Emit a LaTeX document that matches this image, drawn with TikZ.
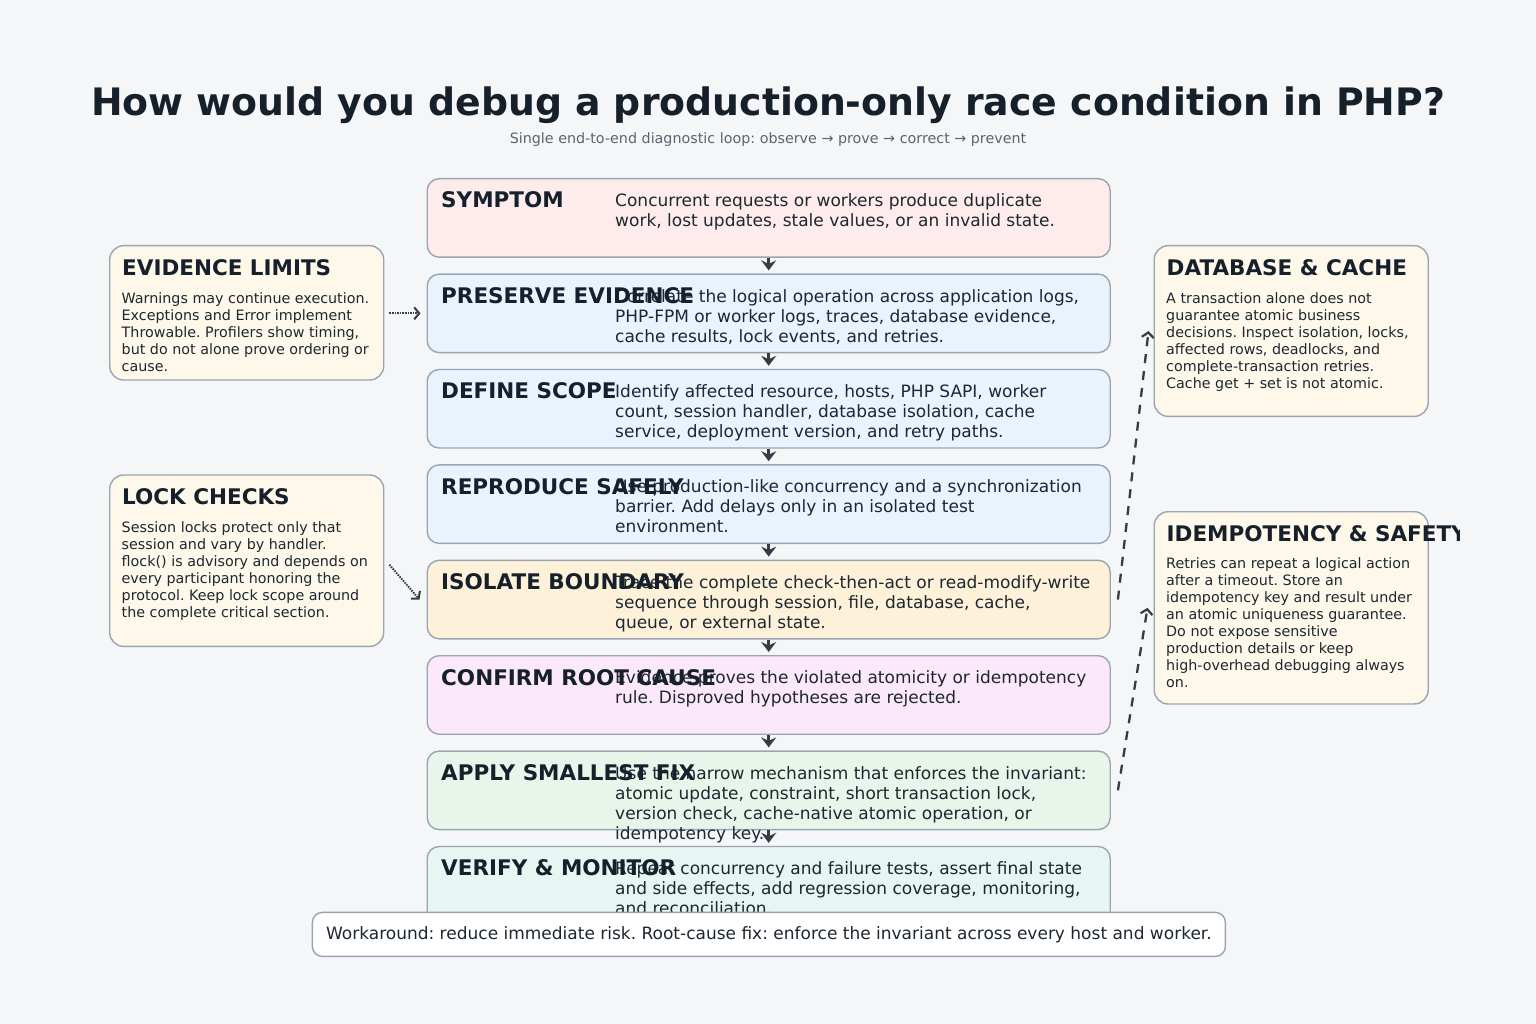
\documentclass[tikz,border=0pt]{standalone}
\usepackage{fontspec}
\setmainfont{DejaVu Sans}
\usetikzlibrary{arrows.meta,calc}
\frenchspacing
\definecolor{bgc}{HTML}{F4F6F8}
\definecolor{bordc}{HTML}{9AA5B1}
\definecolor{sidefill}{HTML}{FDF8EA}
\definecolor{sympf}{HTML}{FDECEB}
\definecolor{bluef}{HTML}{EAF3FD}
\definecolor{yelf}{HTML}{FDF2D9}
\definecolor{purf}{HTML}{FBE8FB}
\definecolor{grnf}{HTML}{E8F5EA}
\definecolor{tealf}{HTML}{E6F6F3}
\definecolor{titlec}{HTML}{16202A}
\definecolor{descc}{HTML}{1E2730}
\definecolor{subc}{HTML}{5A6470}
\definecolor{arrc}{HTML}{343D46}
\newcommand{\flA}{\rule{0pt}{15pt}}
\newcommand{\flB}{\rule{0pt}{13pt}}
\begin{document}
\begin{tikzpicture}[x=1pt,y=-1pt,
  stepbox/.style={draw=bordc, line width=1.4pt, rounded corners=12pt, minimum width=683pt, minimum height=78.5pt, anchor=north west, inner sep=0pt},
  sidebox/.style={draw=bordc, line width=1.4pt, rounded corners=14pt, fill=sidefill, anchor=north west, inner sep=0pt, minimum width=274pt},
  ttl/.style={anchor=base west, inner sep=0pt, font=\fontsize{21.5}{25}\selectfont\bfseries, text=titlec},
  desc/.style={anchor=north west, inner sep=0pt, align=left, font=\fontsize{17}{20}\selectfont, text=descc},
  sdesc/.style={anchor=north west, inner sep=0pt, align=left, font=\fontsize{14.3}{17}\selectfont, text=descc},
  flow/.style={draw=arrc, line width=2.6pt, shorten >=3pt, -{Stealth[length=10pt,width=15pt,inset=3.5pt]}},
  dotarrow/.style={draw=arrc, line width=2pt, dash pattern=on 1.5pt off 1.1pt, -{Straight Barb[length=5pt,width=12pt,line width=2pt]}},
  dasharrow/.style={draw=arrc, line width=2.3pt, dash pattern=on 9pt off 8pt, -{Straight Barb[length=5pt,width=12pt,line width=2.2pt]}}
]
\useasboundingbox[fill=bgc] (0,0) rectangle (1536,1024);

% title
\node[font=\fontsize{37.8}{44}\selectfont\bfseries, text=titlec, anchor=base, inner sep=0pt] (title) at (768,116) {How would you debug a production-only race condition in PHP?};
\node[font=\fontsize{14.3}{16}\selectfont, text=subc, anchor=base, inner sep=0pt] (sub) at (768,144) {Single end-to-end diagnostic loop: observe → prove → correct → prevent};

% steps
\node[stepbox, fill=sympf] (s1) at (426.5,178) {};
\node[stepbox, fill=bluef] (s2) at (426.5,273.4) {};
\node[stepbox, fill=bluef] (s3) at (426.5,368.8) {};
\node[stepbox, fill=bluef] (s4) at (426.5,464.2) {};
\node[stepbox, fill=yelf] (s5) at (426.5,559.6) {};
\node[stepbox, fill=purf] (s6) at (426.5,655) {};
\node[stepbox, fill=grnf] (s7) at (426.5,750.4) {};
\node[stepbox, fill=tealf] (s8) at (426.5,845.8) {};

\node[ttl] (s1t) at (441,208) {SYMPTOM};
\node[desc] (s1d) at (615,206.5-15) {\flA Concurrent requests or workers produce duplicate\\work, lost updates, stale values, or an invalid state.};

\node[desc] (s2d) at (615,301.9-15) {\flA Correlate the logical operation across application logs,\\PHP-FPM or worker logs, traces, database evidence,\\cache results, lock events, and retries.};
\node[ttl] (s2t) at (441,303.4) {PRESERVE EVIDENCE};

\node[desc] (s3d) at (615,397.3-15) {\flA Identify affected resource, hosts, PHP SAPI, worker\\count, session handler, database isolation, cache\\service, deployment version, and retry paths.};
\node[ttl] (s3t) at (441,398.8) {DEFINE SCOPE};

\node[desc] (s4d) at (615,492.7-15) {\flA Use production-like concurrency and a synchronization\\barrier. Add delays only in an isolated test\\environment.};
\node[ttl] (s4t) at (441,494.2) {REPRODUCE SAFELY};

\node[desc] (s5d) at (615,588.1-15) {\flA Trace the complete check-then-act or read-modify-write\\sequence through session, file, database, cache,\\queue, or external state.};
\node[ttl] (s5t) at (441,589.6) {ISOLATE BOUNDARY};

\node[desc] (s6d) at (615,683.5-15) {\flA Evidence proves the violated atomicity or idempotency\\rule. Disproved hypotheses are rejected.};
\node[ttl] (s6t) at (441,685) {CONFIRM ROOT CAUSE};

\node[desc] (s7d) at (615,778.9-15) {\flA Use the narrow mechanism that enforces the invariant:\\atomic update, constraint, short transaction lock,\\version check, cache-native atomic operation, or\\idempotency key.};
\node[ttl] (s7t) at (441,780.4) {APPLY SMALLEST FIX};

\node[desc] (s8d) at (615,874.3-15) {\flA Repeat concurrency and failure tests, assert final state\\and side effects, add regression coverage, monitoring,\\and reconciliation.};
\node[ttl] (s8t) at (441,875.8) {VERIFY \& MONITOR};

% flow arrows
\draw[flow] (s1.south) -- (s2.north);
\draw[flow] (s2.south) -- (s3.north);
\draw[flow] (s3.south) -- (s4.north);
\draw[flow] (s4.south) -- (s5.north);
\draw[flow] (s5.south) -- (s6.north);
\draw[flow] (s6.south) -- (s7.north);
\draw[flow] (s7.south) -- (s8.north);

% side boxes
\node[sidebox, minimum height=134.3pt] (ev) at (109,245) {};
\node[ttl] (evt) at (122,276) {EVIDENCE LIMITS};
\node[sdesc] (evd) at (121.5,303-13) {\flB Warnings may continue execution.\\Exceptions and Error implement\\Throwable. Profilers show timing,\\but do not alone prove ordering or\\cause.};

\node[sidebox, minimum height=171.4pt] (lk) at (109,474.3) {};
\node[ttl] (lkt) at (122,504.3) {LOCK CHECKS};
\node[sdesc] (lkd) at (121.5,532.5-13) {\flB Session locks protect only that\\session and vary by handler.\\flock() is advisory and depends on\\every participant honoring the\\protocol. Keep lock scope around\\the complete critical section.};

\node[sidebox, minimum height=170.7pt] (db) at (1153.5,245) {};
\node[ttl] (dbt) at (1166.5,275.7) {DATABASE \& CACHE};
\node[sdesc] (dbd) at (1166,303-13) {\flB A transaction alone does not\\guarantee atomic business\\decisions. Inspect isolation, locks,\\affected rows, deadlocks, and\\complete-transaction retries.\\Cache get + set is not atomic.};

\node[sidebox, minimum height=192.3pt] (id) at (1153.5,511) {};
\begin{scope}
\clip (1150,500) rectangle (1459,560);
\node[ttl] (idt) at (1166.5,541.7) {IDEMPOTENCY \& SAFETY};
\end{scope}
\node[sdesc] (idd) at (1166,568.5-13) {\flB Retries can repeat a logical action\\after a timeout. Store an\\idempotency key and result under\\an atomic uniqueness guarantee.\\Do not expose sensitive\\production details or keep\\high-overhead debugging always\\on.};

% side connectors
\draw[dotarrow] ($(ev.east)+(5,0.5)$) -- ($(s2.west)+(-6,0)$);
\draw[dotarrow] ($(lk.east)+(5,4)$) -- ($(s5.west)+(-7,0)$);
\draw[dasharrow] ($(s5.east)+(7,0)$) -- ($(db.west)+(-5,0)$);
\draw[dasharrow] ($(s7.east)+(7,0)$) -- ($(id.west)+(-6,0)$);

% footer
\node[draw=bordc, fill=white, line width=1.4pt, rounded corners=10pt, minimum width=913pt, minimum height=44pt, anchor=north west, inner sep=0pt, font=\fontsize{17}{20}\selectfont, text=descc] (foot) at (311.7,911.7) {Workaround: reduce immediate risk. Root-cause fix: enforce the invariant across every host and worker.};
\end{tikzpicture}
\end{document}
